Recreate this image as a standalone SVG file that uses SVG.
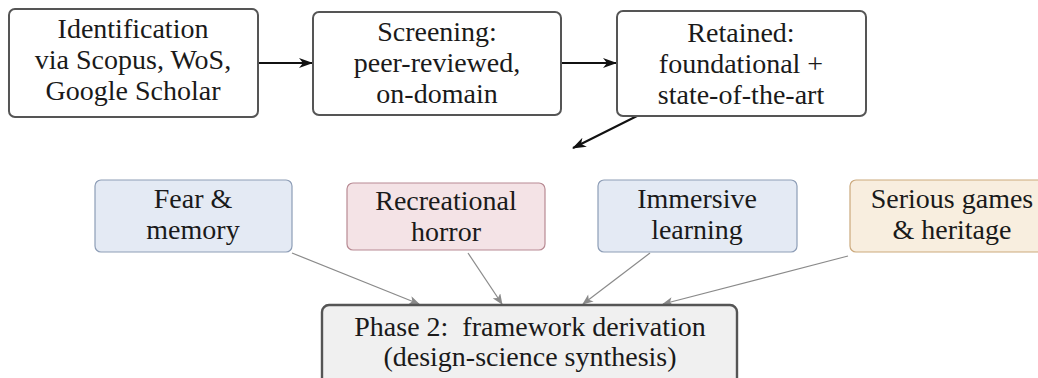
<svg xmlns="http://www.w3.org/2000/svg" width="1038" height="378" viewBox="0 0 1038 378">
  <defs>
    <marker id="ah-black" viewBox="0 0 14 10" refX="13" refY="5" markerWidth="14" markerHeight="10" markerUnits="userSpaceOnUse" orient="auto">
      <path d="M0,0 L14,5 L0,10 L4,5 Z" fill="#111"/>
    </marker>
    <marker id="ah-grey" viewBox="0 0 12 10" refX="11" refY="5" markerWidth="12" markerHeight="9" markerUnits="userSpaceOnUse" orient="auto">
      <path d="M0,0 L12,5 L0,10 L3,5 Z" fill="#8a8a8a"/>
    </marker>
    <style>
      text { font-family: "Liberation Serif", "Times New Roman", serif; font-size: 28px; fill: #1a1a1a; text-anchor: middle; }
      .step { fill: #ffffff; stroke: #555555; stroke-width: 2; }
      .blue { fill: #e4eaf4; stroke: #8d9db6; stroke-width: 1.2; }
      .pink { fill: #f4e3e6; stroke: #b88a93; stroke-width: 1.2; }
      .sand { fill: #f8eedf; stroke: #cba97c; stroke-width: 1.2; }
      .phase { fill: #f0f0f0; stroke: #555555; stroke-width: 2.4; }
      .flow { stroke: #111111; stroke-width: 2; fill: none; marker-end: url(#ah-black); }
      .feed { stroke: #8a8a8a; stroke-width: 1.2; fill: none; marker-end: url(#ah-grey); }
    </style>
  </defs>

  <rect width="1038" height="378" fill="#ffffff"/>

  <!-- connectors -->
  <g id="connectors">
    <line class="flow" x1="258" y1="63" x2="312" y2="63"/>
    <line class="flow" x1="562" y1="63" x2="616" y2="63"/>
    <line class="flow" x1="637" y1="116" x2="573" y2="148"/>
    <line class="feed" x1="292" y1="253" x2="419" y2="304"/>
    <line class="feed" x1="468" y1="253" x2="502" y2="304"/>
    <line class="feed" x1="650" y1="253" x2="583" y2="304"/>
    <line class="feed" x1="848" y1="256" x2="663" y2="304"/>
  </g>

  <!-- pipeline steps -->
  <g id="identification">
    <rect class="step" x="9" y="9" width="249" height="108" rx="6"/>
    <text x="133" y="38">Identification</text>
    <text x="133" y="69">via Scopus, WoS,</text>
    <text x="133" y="100">Google Scholar</text>
  </g>
  <g id="screening">
    <rect class="step" x="313" y="12" width="248" height="103" rx="6"/>
    <text x="437" y="41">Screening:</text>
    <text x="437" y="72">peer-reviewed,</text>
    <text x="437" y="103">on-domain</text>
  </g>
  <g id="retained">
    <rect class="step" x="617" y="11" width="249" height="105" rx="6"/>
    <text x="741" y="42">Retained:</text>
    <text x="741" y="73">foundational +</text>
    <text x="741" y="104">state-of-the-art</text>
  </g>

  <!-- thematic strands -->
  <g id="fear-memory">
    <rect class="blue" x="95" y="180" width="197" height="72" rx="6"/>
    <text x="193" y="208">Fear &amp;</text>
    <text x="193" y="239">memory</text>
  </g>
  <g id="recreational-horror">
    <rect class="pink" x="347" y="183" width="198" height="67" rx="6"/>
    <text x="446" y="210">Recreational</text>
    <text x="446" y="241">horror</text>
  </g>
  <g id="immersive-learning">
    <rect class="blue" x="598" y="180" width="199" height="72" rx="6"/>
    <text x="697" y="208">Immersive</text>
    <text x="697" y="239">learning</text>
  </g>
  <g id="serious-games">
    <rect class="sand" x="850" y="180" width="205" height="72" rx="6"/>
    <text x="952" y="208">Serious games</text>
    <text x="952" y="239">&amp; heritage</text>
  </g>

  <!-- synthesis phase -->
  <g id="phase2">
    <rect class="phase" x="322" y="305" width="415" height="100" rx="7"/>
    <text x="530" y="336" xml:space="preserve">Phase 2:  framework derivation</text>
    <text x="530" y="366">(design-science synthesis)</text>
  </g>
</svg>
